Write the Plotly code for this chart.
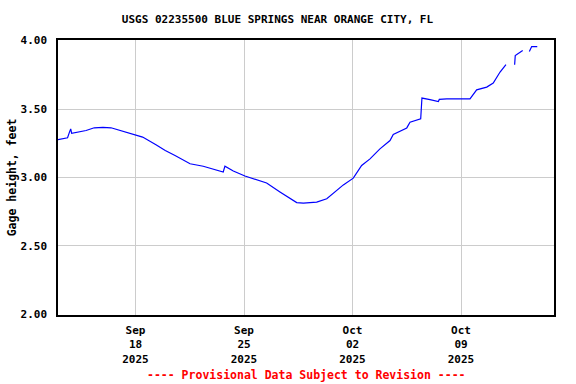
import plotly.graph_objects as go

# Gage height readings (feet), None marks gaps in the record
times = [
    "2025-09-13 00:00", "2025-09-13 14:50", "2025-09-13 17:30", "2025-09-13 19:40",
    "2025-09-13 21:10", "2025-09-14 07:12", "2025-09-14 19:30", "2025-09-15 08:10",
    "2025-09-15 21:36", "2025-09-16 10:05", "2025-09-17 01:26", "2025-09-17 19:41",
    "2025-09-18 11:02", "2025-09-19 07:41", "2025-09-19 22:05", "2025-09-20 13:12",
    "2025-09-21 12:29", "2025-09-22 08:53", "2025-09-23 00:29", "2025-09-23 15:50",
    "2025-09-23 18:29", "2025-09-24 07:26", "2025-09-25 01:26", "2025-09-25 19:41",
    "2025-09-26 11:02", "2025-09-27 07:41", "2025-09-28 09:36", "2025-09-28 19:55",
    "2025-09-29 16:34", "2025-09-30 08:10", "2025-09-30 23:31", "2025-10-01 09:50",
    "2025-10-02 01:12", "2025-10-02 14:10", "2025-10-03 03:07", "2025-10-03 18:29",
    "2025-10-04 10:05", "2025-10-04 15:07", "2025-10-05 12:00", "2025-10-05 17:02",
    "2025-10-06 09:36", "2025-10-06 11:31", "2025-10-07 00:00", "2025-10-07 12:58",
    "2025-10-07 14:24", "2025-10-08 01:55", "2025-10-09 13:55", "2025-10-10 00:14",
    "2025-10-10 15:50", "2025-10-11 01:55", "2025-10-11 12:29", "2025-10-11 21:36",
    "2025-10-12 04:00",
    "2025-10-12 11:02", "2025-10-12 12:00", "2025-10-12 23:31",
    "2025-10-13 04:00",
    "2025-10-13 09:50", "2025-10-13 12:00", "2025-10-13 13:26", "2025-10-13 22:05",
]
gage_height = [
    3.277, 3.290, 3.328, 3.355,
    3.322, 3.330, 3.343, 3.363,
    3.366, 3.363, 3.343, 3.314,
    3.295, 3.239, 3.197, 3.160,
    3.100, 3.082, 3.063, 3.040,
    3.083, 3.048, 3.011, 2.985,
    2.960, 2.895, 2.817, 2.813,
    2.820, 2.845, 2.905, 2.946,
    2.995, 3.088, 3.136, 3.209,
    3.270, 3.315, 3.362, 3.404,
    3.428, 3.580, 3.569, 3.555,
    3.570, 3.574, 3.574, 3.640,
    3.660, 3.690, 3.770, 3.825,
    None,
    3.823, 3.890, 3.927,
    None,
    3.920, 3.945, 3.956, 3.956,
]

x_tick_vals = ["2025-09-18", "2025-09-25", "2025-10-02", "2025-10-09"]
x_tick_text = ["Sep<br>18<br>2025", "Sep<br>25<br>2025", "Oct<br>02<br>2025", "Oct<br>09<br>2025"]
y_tick_vals = [2.0, 2.5, 3.0, 3.5, 4.0]

FONT = "DejaVu Sans Mono"

fig = go.Figure()
fig.add_trace(go.Scatter(
    x=times, y=gage_height, mode="lines",
    line=dict(color="#0000ff", width=1.2),
    connectgaps=False, showlegend=False,
))

fig.update_layout(
    width=576, height=384,
    margin=dict(l=58, r=22, t=40, b=69, autoexpand=False),
    paper_bgcolor="white", plot_bgcolor="white",
    font=dict(family=FONT, size=11, color="black", weight="bold"),
    title=dict(
        text="USGS 02235500 BLUE SPRINGS NEAR ORANGE CITY, FL",
        x=277.5 / 576, xanchor="center", xref="container",
        y=1 - 19 / 384, yanchor="middle", yref="container",
        font=dict(family=FONT, size=11, color="black", weight="bold"),
    ),
    xaxis=dict(
        type="date", automargin=False,
        range=["2025-09-13 00:00", "2025-10-15 00:00"],
        tickmode="array", tickvals=x_tick_vals, ticktext=x_tick_text,
        showgrid=True, gridcolor="#cccccc", gridwidth=1,
        showline=True, linecolor="black", linewidth=1.5, mirror=True,
        ticks="", ticklabelstandoff=4,
        tickfont=dict(family=FONT, size=11, color="black", weight="bold"),
        zeroline=False,
    ),
    yaxis=dict(
        automargin=False,
        range=[1.996, 4.004],
        tickmode="array", tickvals=y_tick_vals, tickformat=".2f",
        showgrid=True, gridcolor="#cccccc", gridwidth=1,
        showline=True, linecolor="black", linewidth=1.5, mirror=True,
        ticks="", ticklabelstandoff=7,
        tickfont=dict(family=FONT, size=11, color="black", weight="bold"),
        title=dict(text="Gage height, feet", standoff=2,
                   font=dict(family=FONT, size=11.5, color="black", weight="bold")),
        zeroline=False,
    ),
)

fig.add_annotation(
    text="---- Provisional Data Subject to Revision ----",
    xref="paper", yref="paper", x=0.5, y=-(375 - 315) / 275,
    xanchor="center", yanchor="middle", showarrow=False,
    font=dict(family=FONT, size=11.5, color="#ff0000", weight="bold"),
)

fig.write_html(
    "out.html",
    config={"displayModeBar": False},
    post_script="document.body.style.margin='0';document.body.style.overflow='hidden';",
)
